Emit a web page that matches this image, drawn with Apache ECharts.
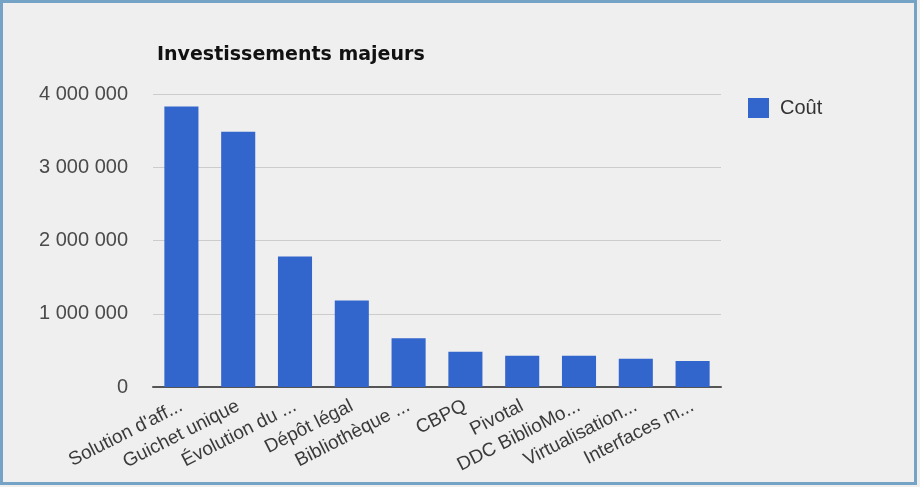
<!DOCTYPE html>
<html><head><meta charset="utf-8">
<script src="https://cdn.jsdelivr.net/npm/echarts@6/dist/echarts.min.js"></script>
<style>
html,body{margin:0;padding:0;background:#efefef;}
#c{position:absolute;left:0;top:0;width:920px;height:487px;}
#f{position:absolute;left:0;top:0;width:917px;height:485px;box-sizing:border-box;border:3px solid #74a3c6;pointer-events:none;}
</style></head>
<body>
<div id="c"></div><div id="f"></div>
<script>
const categories = ["Solution d'aff...", "Guichet unique", "Évolution du ...", "Dépôt légal", "Bibliothèque ...", "CBPQ", "Pivotal", "DDC BiblioMo...", "Virtualisation...", "Interfaces m..."];
const cout = [3830000, 3485000, 1780000, 1180000, 665000, 480000, 425000, 425000, 385000, 355000];
const yTicks = [0, 1000000, 2000000, 3000000, 4000000];
const seriesName = "Coût";
const titleText = "Investissements majeurs";

function fmt(v){ return String(v).replace(/\B(?=(\d{3})+(?!\d))/g, ' '); }

const chart = echarts.init(document.getElementById('c'), null, {renderer:'canvas'});
chart.setOption({
  backgroundColor: '#efefef',
  animation: false,
  title: {
    text: titleText, left: 152, top: 41,
    textStyle: {fontFamily: 'DejaVu Sans', fontWeight: 'bold', fontSize: 19, color: '#111'}
  },
  legend: {
    data: [seriesName], left: 743, top: 93, orient: 'vertical',
    itemWidth: 21, itemHeight: 20, icon: 'rect',
    textStyle: {fontFamily: 'Liberation Sans', fontSize: 20, color: '#333', padding: [0,0,0,6]}
  },
  grid: {left: 153, right: 199, top: 94, bottom: 100, containLabel: false},
  xAxis: {
    type: 'category', data: categories,
    axisLine: {lineStyle: {color: '#555', width: 2}},
    axisTick: {show: false},
    axisLabel: {rotate: 27, interval: 0, margin: 18, fontFamily: 'Liberation Sans', fontSize: 19, color: '#3a3a3a'}
  },
  yAxis: {
    type: 'value', min: yTicks[0], max: yTicks[yTicks.length-1], interval: 1000000,
    axisLine: {show: false}, axisTick: {show: false},
    splitLine: {lineStyle: {color: '#cccccc', width: 1}},
    axisLabel: {margin: 25, fontFamily: 'Liberation Sans', fontSize: 20, color: '#4a4a4a', formatter: fmt}
  },
  series: [{
    name: seriesName, type: 'bar', data: cout, barWidth: '60%',
    itemStyle: {color: '#3366cc'}
  }]
});
</script>
</body></html>
